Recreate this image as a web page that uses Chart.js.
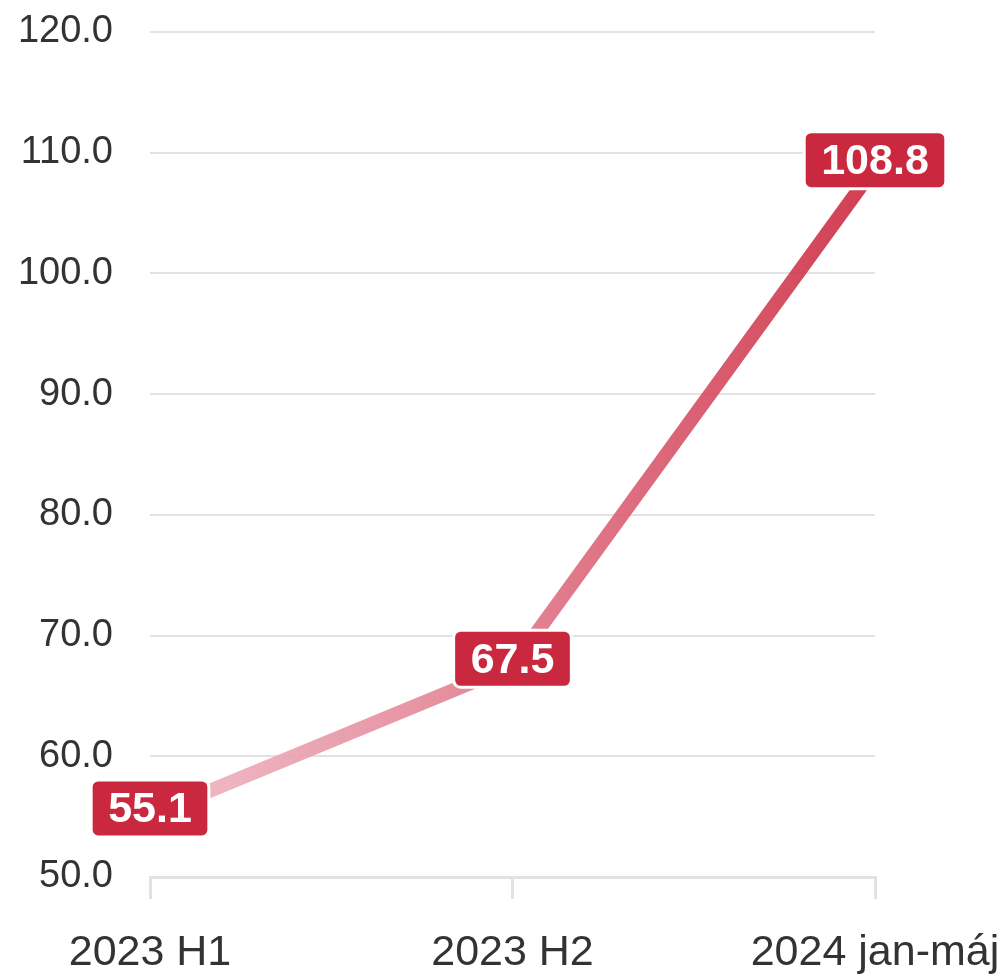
<!DOCTYPE html>
<html>
<head>
<meta charset="utf-8">
<script src="https://cdn.jsdelivr.net/npm/chart.js@4"></script>
<style>
  html, body { margin: 0; padding: 0; background: #fff; }
  #wrap { width: 1004px; height: 977px; }
</style>
</head>
<body>
<div id="wrap"><canvas id="chart"></canvas></div>
<script>
const categories = ['2023 H1', '2023 H2', '2024 jan-máj'];
const values = [55.1, 67.5, 108.8];
const yMin = 50;
const yMax = 120;
const yStep = 10;

const FONT = '"Liberation Sans", Arial, sans-serif';

// draws the red value boxes over each point
const valueBoxes = {
  id: 'valueBoxes',
  afterDatasetsDraw(chart) {
    const ctx = chart.ctx;
    const meta = chart.getDatasetMeta(0);
    ctx.save();
    ctx.font = `bold 43px ${FONT}`;
    ctx.textAlign = 'center';
    ctx.textBaseline = 'middle';
    meta.data.forEach((pt, i) => {
      const txt = values[i].toFixed(1);
      const w = ctx.measureText(txt).width + 34;
      const h = 57;
      const x = pt.x - w / 2;
      const y = pt.y - 7 - h / 2;
      ctx.beginPath();
      ctx.roundRect(x, y, w, h, 7);
      ctx.fillStyle = '#c9283e';
      ctx.fill();
      ctx.lineWidth = 3;
      ctx.strokeStyle = '#ffffff';
      ctx.stroke();
      ctx.fillStyle = '#ffffff';
      ctx.fillText(txt, pt.x, pt.y - 5);
    });
    ctx.restore();
  }
};

function lineGradient(context) {
  const area = context.chart.chartArea;
  if (!area) return '#d04050';
  const g = context.chart.ctx.createLinearGradient(area.left, 0, area.right, 0);
  g.addColorStop(0, 'rgba(240,190,200,0.95)');
  g.addColorStop(0.5, 'rgba(224,120,138,0.9)');
  g.addColorStop(1, 'rgba(204,40,62,0.9)');
  return g;
}

new Chart(document.getElementById('chart').getContext('2d'), {
  type: 'line',
  data: {
    labels: categories,
    datasets: [{
      data: values,
      borderColor: lineGradient,
      borderWidth: 14,
      pointRadius: 0,
      tension: 0,
      fill: false,
    }],
  },
  options: {
    responsive: true,
    maintainAspectRatio: false,
    animation: false,
    layout: { padding: { top: 32, left: 18, right: 129, bottom: 0 } },
    plugins: {
      legend: { display: false },
      tooltip: { enabled: false },
    },
    scales: {
      x: {
        offset: false,
        afterFit: s => {
          s.height = 100;
          s.paddingLeft = 0;
          s.paddingRight = 0;
        },
        grid: {
          display: true,
          drawOnChartArea: false,
          tickLength: 22,
          color: '#e2e2e2',
          lineWidth: 3,
        },
        border: { color: '#e2e2e2', width: 3 },
        ticks: {
          color: '#333',
          padding: 28,
          maxRotation: 0,
          font: { family: FONT, size: 43 },
        },
      },
      y: {
        min: yMin,
        max: yMax,
        afterFit: s => {
          s.width = 132;
          s.paddingTop = 0;
          s.paddingBottom = 0;
        },
        grid: { color: '#e2e2e2', lineWidth: 2, drawTicks: false },
        border: { display: false },
        ticks: {
          stepSize: yStep,
          color: '#333',
          padding: 37,
          callback: v => v.toFixed(1),
          font: { family: FONT, size: 38 },
        },
      },
    },
  },
  plugins: [valueBoxes],
});
</script>
</body>
</html>
